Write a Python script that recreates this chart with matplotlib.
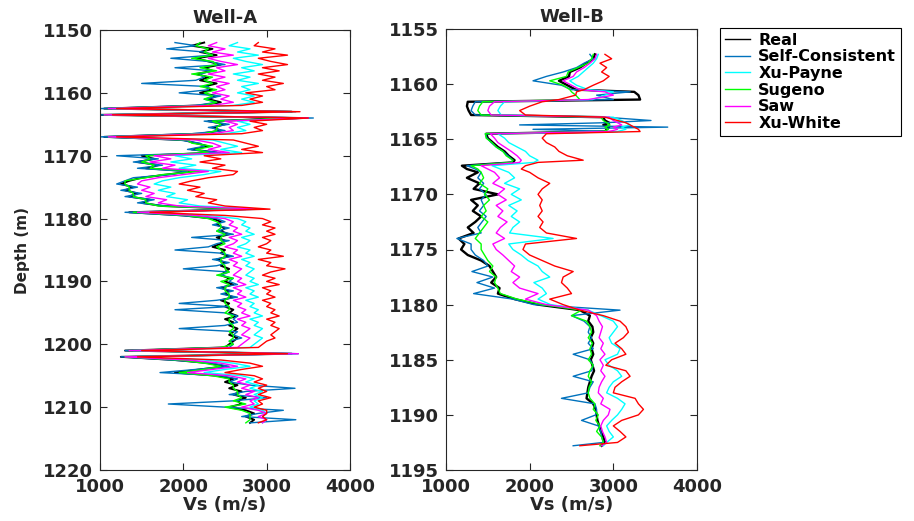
import numpy as np
import matplotlib
matplotlib.use("Agg")
import matplotlib.pyplot as plt

plt.rcParams['font.family'] = ['DejaVu Sans']
plt.rcParams['font.weight'] = 'bold'

series_names = ["Real", "Self-Consistent", "Xu-Payne", "Sugeno", "Saw", "Xu-White"]
series_colors = ["#000000", "#0072BD", "#00FFFF", "#00FF00", "#FF00FF", "#FF0000"]

# ---------------- Well-A (depth step 0.5 m, 1152.0 .. 1212.5) ----------------
depth_A = np.arange(1152.0, 1212.51, 0.5)

real_A = [2250,2100,2350,2200,2400,2150,2300,2450,2250,2350,
          2150,2300,2200,2400,2250,2350,2200,2400,2300,2450,
          2200,1050,3300,1000,3400,2300,2500,2350,2450,2200,
          1050,2000,2150,2300,2100,2400,1500,1650,1450,1700,
          1550,2100,1800,1500,1350,1250,1400,1300,1450,1350,
          1600,1500,1750,2750,1350,2000,2350,2450,2400,2500,
          2450,2550,2400,2500,2450,2350,2500,2450,2550,2400,
          2500,2450,2550,2500,2450,2550,2500,2600,2450,2550,
          2500,2600,2450,2550,2500,2600,2550,2650,2500,2600,
          2550,2650,2600,2550,2650,2600,2550,2500,1300,3300,
          1250,1900,2300,2500,2200,1900,2400,2600,2500,2650,
          2550,2700,2600,2750,2650,2700,2550,2750,2850,2750,
          2850,2800]

selfcons_A = [1900,2150,1800,2250,2350,1850,2300,2500,1900,2350,
              2200,2250,2150,1500,2300,2300,1950,2450,2250,2400,
              2150,1000,3350,1000,3560,2250,2550,2300,2500,2100,
              1000,1950,2200,2250,2050,2450,1200,1700,1400,1750,
              1450,2050,1850,1400,1300,1200,1450,1250,1500,1300,
              1650,1450,1800,2800,1300,1950,2400,2500,2350,2550,
              2400,2600,2100,2550,2400,2300,1900,2450,2600,2350,
              2550,2400,2000,2550,2450,2600,2550,2650,2400,2600,
              2450,2650,2400,1950,2550,1900,2500,2650,2600,2650,
              2500,1950,2650,2600,2700,2550,2600,2550,1300,3380,
              1250,1850,2350,2550,2150,1720,2450,2650,2550,2800,
              3340,2750,2550,3000,2600,1820,2500,3200,2900,2700,
              3350,2800]

xupayne_A = [2650,2550,2800,2650,2900,2600,2750,2950,2700,2850,
             2600,2800,2650,2900,2700,2800,2650,2850,2700,2850,
             2600,1150,3300,1100,3450,2650,2800,2650,2750,2500,
             1150,2350,2500,2650,2450,2700,1900,2100,1850,2150,
             1950,2450,2250,1950,1750,1650,1850,1700,1900,1800,
             2050,1950,2200,2950,1550,2300,2650,2750,2700,2800,
             2750,2850,2700,2800,2750,2650,2800,2750,2850,2700,
             2800,2750,2850,2800,2750,2850,2800,2900,2750,2850,
             2800,2900,2750,2850,2800,2900,2850,2950,2800,2900,
             2850,2950,2900,2850,2950,2900,2850,2800,1400,3350,
             1350,2250,2600,2800,2500,2250,2700,2850,2750,2900,
             2800,2950,2850,2950,2850,2900,2800,2950,3000,2950,
             3000,2950]

sugeno_A = [2200,2150,2300,2250,2350,2100,2350,2400,2200,2400,
            2100,2350,2250,2350,2200,2400,2250,2350,2250,2400,
            2250,1100,3200,1050,3350,2350,2450,2400,2400,2250,
            1100,2050,2100,2350,2150,2300,1550,1600,1500,1650,
            1600,2200,1750,1550,1300,1300,1350,1350,1400,1400,
            1550,1550,1700,2800,1400,2050,2300,2400,2450,2450,
            2400,2500,2450,2450,2500,2400,2450,2500,2500,2450,
            2450,2500,2500,2550,2400,2600,2450,2550,2500,2500,
            2550,2550,2500,2500,2550,2550,2500,2600,2550,2550,
            2600,2600,2550,2600,2600,2550,2600,2450,1350,3250,
            1300,1950,2250,2450,2250,1950,2350,2550,2550,2600,
            2600,2650,2650,2700,2600,2750,2500,2700,2800,2800,
            2800,2750]

saw_A = [2400,2300,2500,2350,2600,2300,2450,2650,2400,2500,
         2300,2500,2350,2550,2400,2500,2350,2550,2450,2600,
         2350,1100,3250,1050,3500,2500,2650,2550,2600,2350,
         1100,2150,2350,2450,2300,2550,1650,1850,1600,1900,
         1750,2300,2000,1700,1500,1450,1600,1500,1650,1550,
         1800,1700,1950,2900,1450,2150,2500,2600,2550,2650,
         2600,2700,2550,2650,2600,2500,2650,2600,2700,2550,
         2650,2600,2700,2650,2600,2700,2650,2750,2600,2700,
         2650,2750,2600,2700,2650,2750,2700,2800,2650,2750,
         2700,2800,2750,2700,2800,2750,2700,2650,1350,3380,
         1300,2050,2450,2650,2350,2050,2550,2750,2650,2800,
         2700,2850,2750,2900,2800,2850,2700,2900,3000,2900,
         3000,2950]

xuwhite_A = [2900,2850,3100,2950,3250,2900,3050,3250,2950,3150,
             2900,3100,2950,3200,3000,3100,2750,2950,2800,2950,
             2700,1200,3400,1150,3500,2800,3000,2850,2950,2700,
             1200,2600,2750,2900,2700,2950,2250,2450,2200,2500,
             2350,2650,2600,2300,2100,1950,2200,2050,2250,2150,
             2400,2300,2500,3040,1600,2500,2950,3050,2950,3100,
             3000,3100,2950,3050,3000,2900,3050,3000,3200,2900,
             3050,3000,3220,3050,2950,3100,3000,3150,2950,3050,
             3000,3100,2950,3050,3000,3100,3050,3150,3000,3100,
             3050,3150,3100,3050,3100,3000,2950,2900,1500,3250,
             1450,2450,2800,2950,2700,2500,2850,2950,2850,3000,
             2900,3000,2900,3050,2900,2950,2850,3000,3000,2950,
             3000,2900]

# ---------------- Well-B ----------------
depth_B = np.concatenate([
    [1157.3, 1157.7, 1158.1, 1158.5, 1158.9, 1159.3, 1159.7, 1160.1, 1160.5,
     1160.7, 1161.0, 1161.4, 1161.6, 1162.0, 1162.4, 1162.8,
     1163.0, 1163.3, 1163.5, 1163.7, 1163.9, 1164.1, 1164.3,
     1164.5, 1164.9, 1165.3, 1165.7, 1166.1, 1166.5, 1166.9, 1167.1, 1167.4, 1167.7],
    np.arange(1168.0, 1192.51, 0.5),
    [1192.8]])

real_B = [2780,2760,2680,2600,2480,2470,2350,2450,2550,
          3250,3300,3320,1260,1250,1270,1300,
          2880,2900,2950,2880,2950,2920,2900,
          1480,1500,1560,1620,1700,1750,1820,1800,1190,1250,
          1380,1250,1400,1330,1620,1300,1380,1320,1420,1350,
          1260,1330,1150,1220,1180,1260,1420,1520,1560,1600,
          1540,1640,1620,1820,2100,2600,2720,2700,2750,2760,
          2730,2760,2740,2760,2730,2750,2770,2740,2720,2700,
          2690,2680,2760,2790,2800,2810,2830,2850,2880,2900,
          2860]

selfcons_B = [2720,2760,2650,2560,2400,2200,2040,2380,2500,
              3200,2800,3000,1350,1320,1300,1350,
              2900,3450,2900,1880,3650,2040,3000,
              1470,1490,1540,1600,1680,1740,1800,1780,1250,1350,
              1420,1380,1450,1400,1480,1420,1450,1400,1480,1430,
              1380,1420,1130,1300,1300,1350,1450,1500,1310,1560,
              1370,1580,1330,1800,2050,3080,2500,2650,2720,2700,
              2740,2700,2760,2520,2720,2760,2740,2520,2760,2720,
              2700,2380,2780,2800,2790,2620,2820,2850,2860,2880,
              2520]

xupayne_B = [2820,2800,2760,2700,2640,2580,2480,2560,2700,
             3000,2900,2750,1700,1650,1620,1660,
             3000,3100,3150,3200,3100,3150,3050,
             1620,1700,1750,1850,1950,2000,2100,2050,1550,1650,
             1750,1820,1700,1880,1780,1900,1750,1850,1780,1880,
             1800,1760,2280,1750,1800,1900,1980,2100,2150,2240,
             2050,2150,2200,2100,2250,2700,2850,3000,3050,3000,
             2950,2980,3080,3050,2900,2950,3050,3100,3000,2950,
             2920,3050,3140,3100,3050,2980,2920,2950,3000,2920,
             2880]

sugeno_B = [2760,2740,2700,2580,2460,2440,2240,2400,2480,
            2500,2550,2600,1440,1400,1380,1420,
            2850,2880,2920,2960,2900,2940,2880,
            1470,1480,1550,1600,1680,1720,1800,1780,1300,1380,
            1420,1450,1400,1500,1460,1520,1450,1480,1420,1500,
            1450,1400,1350,1420,1420,1460,1500,1560,1520,1600,
            1580,1620,1650,1850,2150,2620,2500,2680,2720,2740,
            2700,2750,2720,2740,2700,2760,2720,2700,2740,2710,
            2700,2720,2780,2760,2820,2790,2840,2800,2860,2880,
            2840]

saw_B = [2800,2780,2720,2650,2560,2520,2400,2500,2600,
         2900,3000,2700,1580,1520,1500,1540,
         2950,3000,3050,3100,3000,3050,2950,
         1530,1580,1620,1700,1780,1850,1900,1880,1420,1500,
         1580,1640,1560,1700,1620,1720,1600,1680,1620,1730,
         1650,1600,1700,1560,1600,1680,1750,1820,1780,1880,
         1800,1880,2100,1950,2200,2700,2800,2830,2870,2850,
         2830,2880,2850,2900,2840,2880,2850,2900,2860,2830,
         2820,2880,2850,2960,2940,2880,2850,2870,2900,2920,
         2860]

xuwhite_B = [2900,2980,2840,2920,2860,2950,2880,2760,2650,
             2560,2550,2350,2150,2000,1880,1950,
             2900,3050,3150,3200,3250,3300,3320,
             2200,2150,2200,2300,2350,2450,2640,2100,1950,1900,
             2000,2100,2240,2150,2100,2150,2120,2150,2100,2160,
             2120,2200,2560,1950,1920,2000,2150,2300,2520,2400,
             2380,2450,2500,2240,2400,2600,2880,3080,3150,3180,
             3120,3020,3100,3150,2980,2910,3150,3200,3100,3020,
             3000,3260,3300,3360,3300,3100,3000,3080,3150,3050,
             2600]

x_ticks = [1000, 2000, 3000, 4000]
yticks_A = [1150, 1160, 1170, 1180, 1190, 1200, 1210, 1220]
yticks_B = [1155, 1160, 1165, 1170, 1175, 1180, 1185, 1190, 1195]

wells = [
    ("Well-A", depth_A, [real_A, selfcons_A, xupayne_A, sugeno_A, saw_A, xuwhite_A], (1150, 1220), yticks_A),
    ("Well-B", depth_B, [real_B, selfcons_B, xupayne_B, sugeno_B, saw_B, xuwhite_B], (1155, 1195), yticks_B),
]

W, H = 914, 521
fig = plt.figure(figsize=(W / 100, H / 100), dpi=100)
ax_rects = [
    [100 / W, 51 / H, 250 / W, 440 / H],
    [446 / W, 51 / H, 251 / W, 441 / H],
]
dark = "#262626"
handles = None
for rect, (title, depth, vals, ylim, yt) in zip(ax_rects, wells):
    ax = fig.add_axes(rect)
    lines = []
    for name, col, v in zip(series_names, series_colors, vals):
        if name == "Real":
            lw = 1.7 if title == "Well-B" else 1.4
        else:
            lw = 1.0
        ln, = ax.plot(v, depth, color=col, lw=lw, label=name)
        lines.append(ln)
    handles = lines
    ax.set_xlim(1000, 4000)
    ax.set_ylim(ylim[1], ylim[0])
    ax.set_xticks(x_ticks)
    ax.set_yticks(yt)
    ax.tick_params(direction="in", top=True, right=True, length=5, width=0.8,
                   labelsize=13, colors=dark)
    ax.tick_params(axis="x", pad=6)
    ax.tick_params(axis="y", pad=5)
    for s in ax.spines.values():
        s.set_color(dark)
        s.set_linewidth(0.8)
    ax.set_title(title, fontsize=13, fontweight="bold", color=dark, pad=5)
    ax.set_xlabel("Vs (m/s)", fontsize=13, fontweight="bold", color=dark, labelpad=0)
    if title == "Well-A":
        ax.set_ylabel("Depth (m)", fontsize=11, fontweight="bold", color=dark,
                      labelpad=9, family=["Liberation Sans Narrow", "DejaVu Sans"])

leg = fig.legend(handles, series_names, loc="upper left",
                 bbox_to_anchor=(720 / W, 1 - 28 / H), bbox_transform=fig.transFigure,
                 frameon=True, fancybox=False, edgecolor="black", framealpha=1,
                 fontsize=11.5, handlelength=1.6, borderpad=0.3, labelspacing=0.1,
                 handletextpad=0.5, borderaxespad=0)
leg.get_frame().set_linewidth(0.8)
for ln in leg.get_lines():
    ln.set_linewidth(1.0)

fig.savefig("out.png", dpi=100)
